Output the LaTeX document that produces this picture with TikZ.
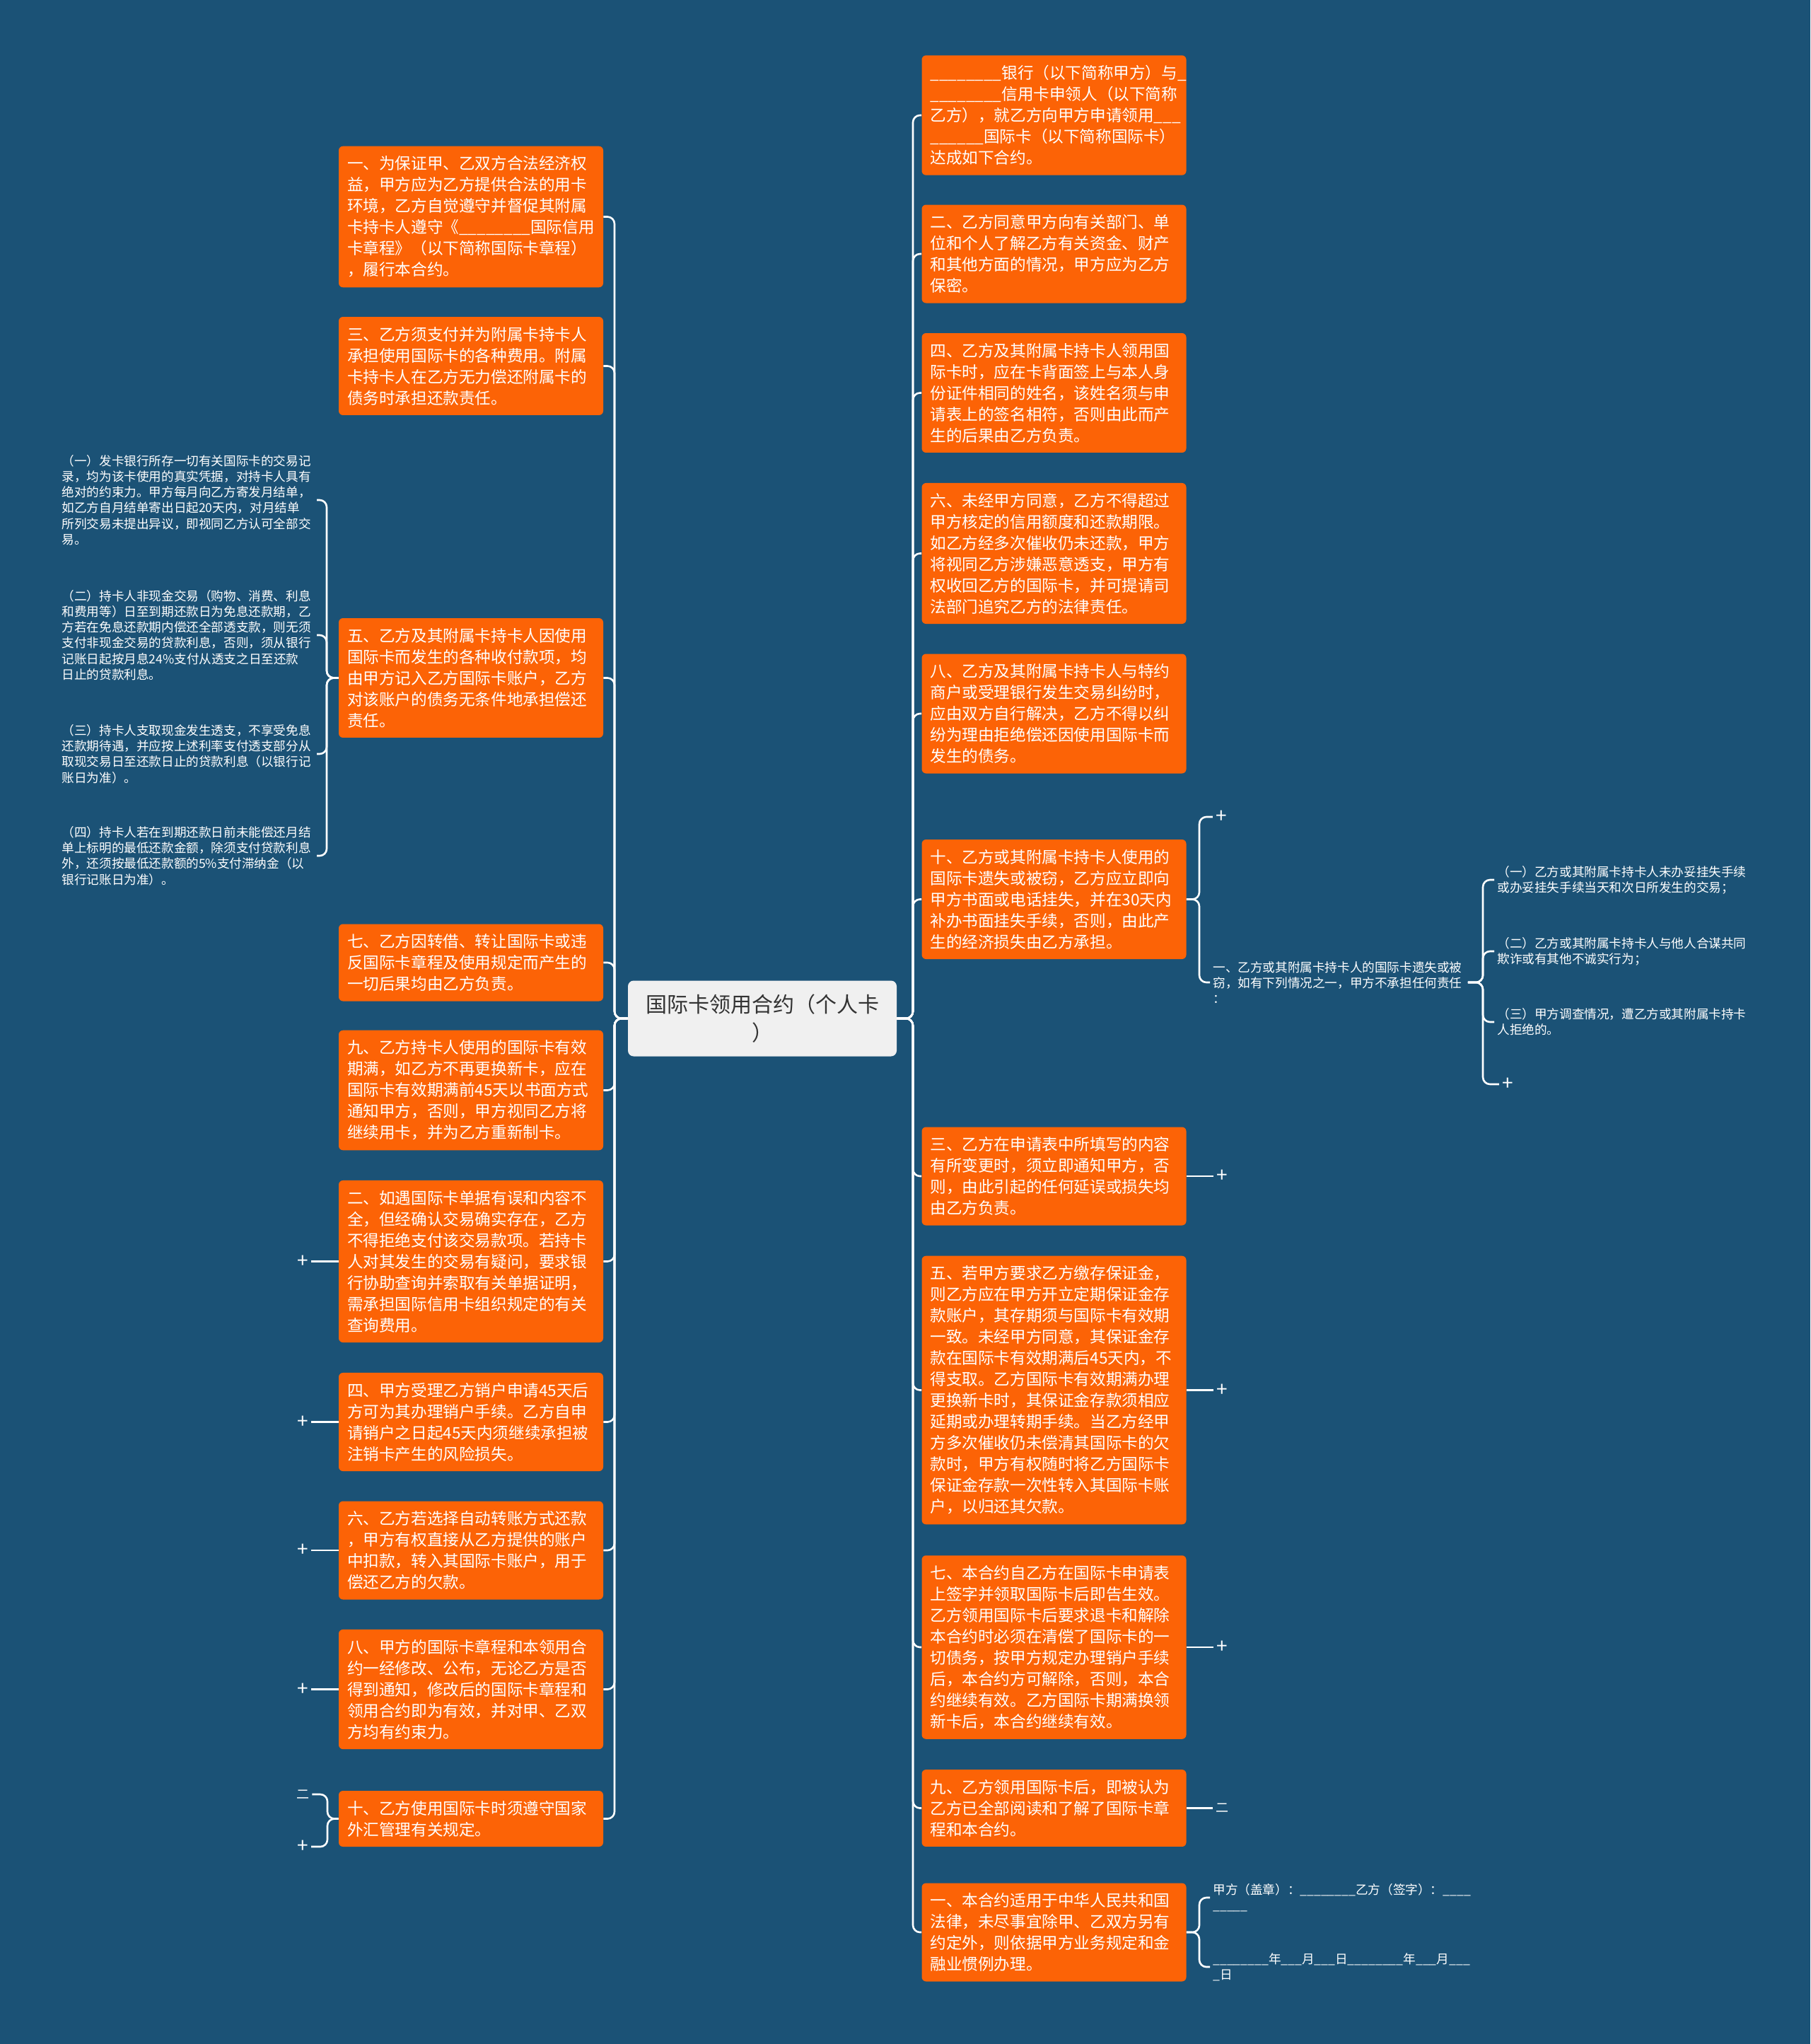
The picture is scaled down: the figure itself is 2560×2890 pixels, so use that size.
\documentclass[tikz,border=0pt]{standalone}
\usepackage{fontspec}
\setmainfont{Noto Sans CJK SC}
\usepackage{xcolor}
\usetikzlibrary{positioning, calc}

\definecolor{mapbg}{RGB}{27,82,118}
\definecolor{cardorange}{RGB}{252,99,6}
\definecolor{rootgray}{RGB}{240,240,240}
\definecolor{roottext}{RGB}{51,51,51}

\begin{document}
\begin{tikzpicture}[
    x=0.5pt, y=-0.5pt,
    root/.style={rectangle, rounded corners=4pt, fill=rootgray, text=roottext, minimum width=190pt, minimum height=53.5pt, align=center, font=\fontsize{15}{20}\selectfont},
    clause/.style={rectangle, rounded corners=3pt, fill=cardorange, text=white, text width=175pt, inner xsep=6pt, inner ysep=7pt, align=left, font=\fontsize{11.3}{15}\selectfont},
    note/.style={text=white, text width=178pt, inner xsep=2pt, inner ysep=1pt, align=left, font=\fontsize{8.8}{11.1}\selectfont},
    fold/.style={text=white, inner sep=2pt, font=\fontsize{14}{14}\selectfont},
    link/.style={draw=white, line width=1.3pt, rounded corners=5pt}
]

    \useasboundingbox (0,0) rectangle (2560,2890);
    \fill[mapbg] (0,0) rectangle (2560,2890);

    % ===============================
    % 1. ROOT
    % ===============================
    \node[root] (root) at (1078,1440) {国际卡领用合约（个人卡\\）};
    \coordinate (trunkL) at (869,1440);
    \coordinate (trunkR) at (1291,1440);

    % ===============================
    % 2. LEFT CLAUSES
    % ===============================
    \node[clause] (l1) at (666,306.5) {一、为保证甲、乙双方合法经济权\\益，甲方应为乙方提供合法的用卡\\环境，乙方自觉遵守并督促其附属\\卡持卡人遵守《\_\_\_\_\_\_\_\_国际信用\\卡章程》（以下简称国际卡章程）\\，履行本合约。};
    \node[clause] (l3) at (666,517.5) {三、乙方须支付并为附属卡持卡人\\承担使用国际卡的各种费用。附属\\卡持卡人在乙方无力偿还附属卡的\\债务时承担还款责任。};
    \node[clause] (l5) at (666,958.5) {五、乙方及其附属卡持卡人因使用\\国际卡而发生的各种收付款项，均\\由甲方记入乙方国际卡账户，乙方\\对该账户的债务无条件地承担偿还\\责任。};
    \node[clause] (l7) at (666,1361) {七、乙方因转借、转让国际卡或违\\反国际卡章程及使用规定而产生的\\一切后果均由乙方负责。};
    \node[clause] (l9) at (666,1541.5) {九、乙方持卡人使用的国际卡有效\\期满，如乙方不再更换新卡，应在\\国际卡有效期满前45天以书面方式\\通知甲方，否则，甲方视同乙方将\\继续用卡，并为乙方重新制卡。};
    \node[clause] (l2) at (666,1783.5) {二、如遇国际卡单据有误和内容不\\全，但经确认交易确实存在，乙方\\不得拒绝支付该交易款项。若持卡\\人对其发生的交易有疑问，要求银\\行协助查询并索取有关单据证明，\\需承担国际信用卡组织规定的有关\\查询费用。};
    \node[clause] (l4) at (666,2010.5) {四、甲方受理乙方销户申请45天后\\方可为其办理销户手续。乙方自申\\请销户之日起45天内须继续承担被\\注销卡产生的风险损失。};
    \node[clause] (l6) at (666,2192) {六、乙方若选择自动转账方式还款\\，甲方有权直接从乙方提供的账户\\中扣款，转入其国际卡账户，用于\\偿还乙方的欠款。};
    \node[clause] (l8) at (666,2388.5) {八、甲方的国际卡章程和本领用合\\约一经修改、公布，无论乙方是否\\得到通知，修改后的国际卡章程和\\领用合约即为有效，并对甲、乙双\\方均有约束力。};
    \node[clause] (l10) at (666,2571.5) {十、乙方使用国际卡时须遵守国家\\外汇管理有关规定。};

    \draw[link] (root.west) -- (trunkL) |- (l1.east);
    \draw[link] (root.west) -- (trunkL) |- (l3.east);
    \draw[link] (root.west) -- (trunkL) |- (l5.east);
    \draw[link] (root.west) -- (trunkL) |- (l7.east);
    \draw[link] (root.west) -- (trunkL) |- (l9.east);
    \draw[link] (root.west) -- (trunkL) |- (l2.east);
    \draw[link] (root.west) -- (trunkL) |- (l4.east);
    \draw[link] (root.west) -- (trunkL) |- (l6.east);
    \draw[link] (root.west) -- (trunkL) |- (l8.east);
    \draw[link] (root.west) -- (trunkL) |- (l10.east);

    % notes of clause five
    \coordinate (brA) at (462,958.5);
    \node[note, anchor=east] (n1) at (448,707) {（一）发卡银行所存一切有关国际卡的交易记\\录，均为该卡使用的真实凭据，对持卡人具有\\绝对的约束力。甲方每月向乙方寄发月结单，\\如乙方自月结单寄出日起20天内，对月结单\\所列交易未提出异议，即视同乙方认可全部交\\易。};
    \node[note, anchor=east] (n2) at (448,898) {（二）持卡人非现金交易（购物、消费、利息\\和费用等）日至到期还款日为免息还款期，乙\\方若在免息还款期内偿还全部透支款，则无须\\支付非现金交易的贷款利息，否则，须从银行\\记账日起按月息24\%支付从透支之日至还款\\日止的贷款利息。};
    \node[note, anchor=east] (n3) at (448,1066) {（三）持卡人支取现金发生透支，不享受免息\\还款期待遇，并应按上述利率支付透支部分从\\取现交易日至还款日止的贷款利息（以银行记\\账日为准）。};
    \node[note, anchor=east] (n4) at (448,1210) {（四）持卡人若在到期还款日前未能偿还月结\\单上标明的最低还款金额，除须支付贷款利息\\外，还须按最低还款额的5\%支付滞纳金（以\\银行记账日为准）。};

    \draw[link] (l5.west) -- (brA) |- (n1.east);
    \draw[link] (l5.west) -- (brA) |- (n2.east);
    \draw[link] (l5.west) -- (brA) |- (n3.east);
    \draw[link] (l5.west) -- (brA) |- (n4.east);

    % folded branches, left
    \node[fold] (m2) at (428,1783.5) {+};
    \node[fold] (m4) at (428,2010.5) {+};
    \node[fold] (m6) at (428,2192) {+};
    \node[fold] (m8) at (428,2388.5) {+};
    \node[fold, font=\fontsize{9}{9}\selectfont] (m10a) at (428,2537) {二};
    \node[fold] (m10b) at (428,2611) {+};
    \coordinate (brB) at (463,2571.5);

    \draw[link] (l2.west) -- (m2.east);
    \draw[link] (l4.west) -- (m4.east);
    \draw[link] (l6.west) -- (m6.east);
    \draw[link] (l8.west) -- (m8.east);
    \draw[link] (l10.west) -- (brB) |- (m10a.east);
    \draw[link] (l10.west) -- (brB) |- (m10b.east);

    % ===============================
    % 3. RIGHT CLAUSES
    % ===============================
    \node[clause] (r1) at (1490.5,163) {\_\_\_\_\_\_\_\_银行（以下简称甲方）与\_\\\_\_\_\_\_\_\_\_信用卡申领人（以下简称\\乙方），就乙方向甲方申请领用\_\_\_\\\_\_\_\_\_\_国际卡（以下简称国际卡）\\达成如下合约。};
    \node[clause] (r2) at (1490.5,359) {二、乙方同意甲方向有关部门、单\\位和个人了解乙方有关资金、财产\\和其他方面的情况，甲方应为乙方\\保密。};
    \node[clause] (r4) at (1490.5,555.5) {四、乙方及其附属卡持卡人领用国\\际卡时，应在卡背面签上与本人身\\份证件相同的姓名，该姓名须与申\\请表上的签名相符，否则由此而产\\生的后果由乙方负责。};
    \node[clause] (r6) at (1490.5,782.5) {六、未经甲方同意，乙方不得超过\\甲方核定的信用额度和还款期限。\\如乙方经多次催收仍未还款，甲方\\将视同乙方涉嫌恶意透支，甲方有\\权收回乙方的国际卡，并可提请司\\法部门追究乙方的法律责任。};
    \node[clause] (r8) at (1490.5,1009) {八、乙方及其附属卡持卡人与特约\\商户或受理银行发生交易纠纷时，\\应由双方自行解决，乙方不得以纠\\纷为理由拒绝偿还因使用国际卡而\\发生的债务。};
    \node[clause] (r10) at (1490.5,1271.5) {十、乙方或其附属卡持卡人使用的\\国际卡遗失或被窃，乙方应立即向\\甲方书面或电话挂失，并在30天内\\补办书面挂失手续，否则，由此产\\生的经济损失由乙方承担。};
    \node[clause] (r3) at (1490.5,1663) {三、乙方在申请表中所填写的内容\\有所变更时，须立即通知甲方，否\\则，由此引起的任何延误或损失均\\由乙方负责。};
    \node[clause] (r5) at (1490.5,1965.5) {五、若甲方要求乙方缴存保证金，\\则乙方应在甲方开立定期保证金存\\款账户，其存期须与国际卡有效期\\一致。未经甲方同意，其保证金存\\款在国际卡有效期满后45天内，不\\得支取。乙方国际卡有效期满办理\\更换新卡时，其保证金存款须相应\\延期或办理转期手续。当乙方经甲\\方多次催收仍未偿清其国际卡的欠\\款时，甲方有权随时将乙方国际卡\\保证金存款一次性转入其国际卡账\\户，以归还其欠款。};
    \node[clause] (r7) at (1490.5,2329) {七、本合约自乙方在国际卡申请表\\上签字并领取国际卡后即告生效。\\乙方领用国际卡后要求退卡和解除\\本合约时必须在清偿了国际卡的一\\切债务，按甲方规定办理销户手续\\后，本合约方可解除，否则，本合\\约继续有效。乙方国际卡期满换领\\新卡后，本合约继续有效。};
    \node[clause] (r9) at (1490.5,2556.5) {九、乙方领用国际卡后，即被认为\\乙方已全部阅读和了解了国际卡章\\程和本合约。};
    \node[clause] (r11) at (1490.5,2732) {一、本合约适用于中华人民共和国\\法律，未尽事宜除甲、乙双方另有\\约定外，则依据甲方业务规定和金\\融业惯例办理。};

    \draw[link] (root.east) -- (trunkR) |- (r1.west);
    \draw[link] (root.east) -- (trunkR) |- (r2.west);
    \draw[link] (root.east) -- (trunkR) |- (r4.west);
    \draw[link] (root.east) -- (trunkR) |- (r6.west);
    \draw[link] (root.east) -- (trunkR) |- (r8.west);
    \draw[link] (root.east) -- (trunkR) |- (r10.west);
    \draw[link] (root.east) -- (trunkR) |- (r3.west);
    \draw[link] (root.east) -- (trunkR) |- (r5.west);
    \draw[link] (root.east) -- (trunkR) |- (r7.west);
    \draw[link] (root.east) -- (trunkR) |- (r9.west);
    \draw[link] (root.east) -- (trunkR) |- (r11.west);

    % lost card branch of clause ten
    \coordinate (brE) at (1696,1271.5);
    \node[fold] (mr10) at (1727,1155) {+};
    \node[note, anchor=west] (lost) at (1711,1389) {一、乙方或其附属卡持卡人的国际卡遗失或被\\窃，如有下列情况之一，甲方不承担任何责任\\：};
    \draw[link] (r10.east) -- (brE) |- (mr10.west);
    \draw[link] (r10.east) -- (brE) |- (lost.west);

    \coordinate (brC) at (2097,1389);
    \node[note, anchor=west] (case1) at (2113,1244) {（一）乙方或其附属卡持卡人未办妥挂失手续\\或办妥挂失手续当天和次日所发生的交易；};
    \node[note, anchor=west] (case2) at (2113,1345) {（二）乙方或其附属卡持卡人与他人合谋共同\\欺诈或有其他不诚实行为；};
    \node[note, anchor=west] (case3) at (2113,1445) {（三）甲方调查情况，遭乙方或其附属卡持卡\\人拒绝的。};
    \node[fold] (mcase) at (2132,1533) {+};
    \draw[link] (lost.east) -- (brC) |- (case1.west);
    \draw[link] (lost.east) -- (brC) |- (case2.west);
    \draw[link] (lost.east) -- (brC) |- (case3.west);
    \draw[link] (lost.east) -- (brC) |- (mcase.west);

    % folded branches, right
    \node[fold] (mr3) at (1728,1663) {+};
    \node[fold] (mr5) at (1728,1965.5) {+};
    \node[fold] (mr7) at (1728,2329) {+};
    \node[fold, font=\fontsize{9}{9}\selectfont] (mr9) at (1728,2556.5) {二};
    \draw[link] (r3.east) -- (mr3.west);
    \draw[link] (r5.east) -- (mr5.west);
    \draw[link] (r7.east) -- (mr7.west);
    \draw[link] (r9.east) -- (mr9.west);

    % signatures
    \coordinate (brD) at (1696,2732);
    \node[note, anchor=west] (sign) at (1711,2683) {甲方（盖章）：\_\_\_\_\_\_\_\_乙方（签字）：\_\_\_\_\\\_\_\_\_\_};
    \node[note, anchor=west] (date) at (1711,2781) {\_\_\_\_\_\_\_\_年\_\_\_月\_\_\_日\_\_\_\_\_\_\_\_年\_\_\_月\_\_\_\\\_日};
    \draw[link] (r11.east) -- (brD) |- (sign.west);
    \draw[link] (r11.east) -- (brD) |- (date.west);

\end{tikzpicture}
\end{document}
